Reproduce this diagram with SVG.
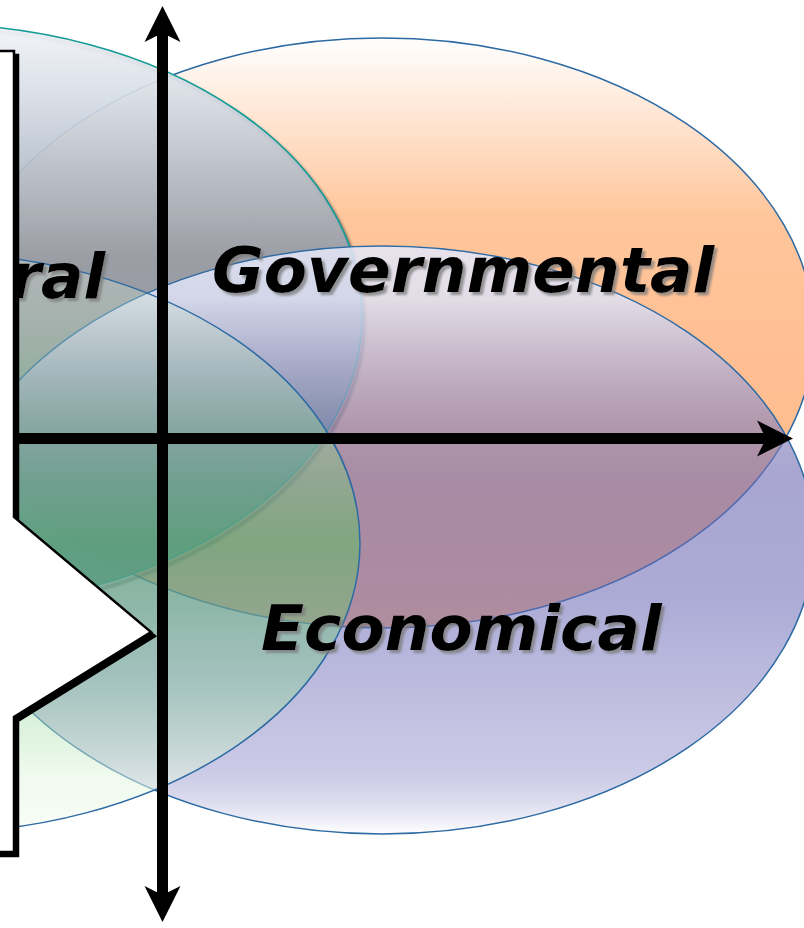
<svg xmlns="http://www.w3.org/2000/svg" width="804" height="928" viewBox="0 0 804 928">
<style>
.edge{fill:none;stroke:#2d6aa3;stroke-width:1.5}
.lbl{font-family:"DejaVu Sans","Liberation Sans",sans-serif;font-weight:bold;font-style:italic;font-size:63px;fill:#000}
.axis{stroke:#000;stroke-width:11;fill:none}
</style>
<defs>
<linearGradient id="gG" x1="0" y1="0" x2="0" y2="1">
<stop offset="0" stop-color="#ffffff"/>
<stop offset="0.3" stop-color="#ffc69c"/>
<stop offset="0.55" stop-color="#ffbf92"/>
<stop offset="1" stop-color="#ffb888"/>
</linearGradient>
<linearGradient id="gC" x1="0" y1="0" x2="0" y2="1">
<stop offset="0" stop-color="#f2f4f8"/>
<stop offset="0.13" stop-color="#d5dce5"/>
<stop offset="0.3" stop-color="#aab3be"/>
<stop offset="0.4" stop-color="#939aa6"/>
<stop offset="0.55" stop-color="#8a96a0"/>
<stop offset="0.75" stop-color="#62998a"/>
<stop offset="1" stop-color="#3f8f79"/>
</linearGradient>
<linearGradient id="gE" x1="0" y1="0" x2="0" y2="1">
<stop offset="0" stop-color="rgb(228,230,247)" stop-opacity="0.88"/>
<stop offset="0.09" stop-color="rgb(221,225,245)" stop-opacity="0.85"/>
<stop offset="0.31" stop-color="rgb(134,131,186)" stop-opacity="0.65"/>
<stop offset="0.4" stop-color="rgb(110,106,179)" stop-opacity="0.6"/>
<stop offset="0.6" stop-color="rgb(104,102,180)" stop-opacity="0.55"/>
<stop offset="0.85" stop-color="rgb(130,128,195)" stop-opacity="0.45"/>
<stop offset="1" stop-color="#ffffff" stop-opacity="0.9"/>
</linearGradient>
<linearGradient id="gT" x1="0" y1="0" x2="0" y2="1">
<stop offset="0" stop-color="rgb(230,240,230)" stop-opacity="0.3"/>
<stop offset="0.2" stop-color="rgb(170,215,175)" stop-opacity="0.35"/>
<stop offset="0.5" stop-color="rgb(90,190,95)" stop-opacity="0.52"/>
<stop offset="0.73" stop-color="rgb(120,205,130)" stop-opacity="0.36"/>
<stop offset="0.9" stop-color="rgb(225,245,222)" stop-opacity="0.5"/>
<stop offset="1" stop-color="rgb(250,255,248)" stop-opacity="0.8"/>
</linearGradient>
<filter id="tsh" x="-10%" y="-30%" width="130%" height="160%">
<feGaussianBlur in="SourceAlpha" stdDeviation="1.3"/>
<feOffset dx="3" dy="3" result="b"/>
<feFlood flood-color="#7a7a7a" flood-opacity="0.75"/>
<feComposite in2="b" operator="in"/>
<feMerge><feMergeNode/><feMergeNode in="SourceGraphic"/></feMerge>
</filter>
<filter id="esh" x="-20%" y="-20%" width="140%" height="140%">
<feGaussianBlur stdDeviation="1"/>
</filter>
<marker id="ah" markerUnits="userSpaceOnUse" markerWidth="40" markerHeight="40" viewBox="-40 -20 40 40" refX="-27" refY="0" orient="auto-start-reverse" overflow="visible">
<path d="M0,0 L-36,-18 L-27,0 L-36,18 Z" fill="#000"/>
</marker>
</defs>
<rect width="804" height="928" fill="#ffffff"/>
<g id="governmental-ellipse">
<ellipse cx="382" cy="333" rx="432" ry="295" fill="url(#gG)"/>
<ellipse cx="382" cy="333" rx="432" ry="295" class="edge"/>
</g>
<g id="cultural-ellipse">
<ellipse cx="-68" cy="320" rx="432" ry="292" fill="none" stroke="#3a3a3a" stroke-opacity="0.5" stroke-width="4" filter="url(#esh)"/>
<ellipse cx="-70" cy="316" rx="432" ry="292" fill="url(#gC)" fill-opacity="0.92"/>
<ellipse cx="-70" cy="316" rx="432" ry="292" fill="none" stroke="#139c96" stroke-width="1.6"/>
</g>
<g id="economical-ellipse">
<ellipse cx="382" cy="540" rx="432" ry="294" fill="url(#gE)"/>
<ellipse cx="382" cy="540" rx="432" ry="294" class="edge"/>
</g>
<g id="green-ellipse">
<ellipse cx="-72" cy="543" rx="432" ry="290" fill="url(#gT)"/>
<ellipse cx="-72" cy="543" rx="432" ry="290" class="edge"/>
</g>
<g id="labels">
<text class="lbl" x="10" y="298" filter="url(#tsh)">ral</text>
<text class="lbl" x="212" y="292" filter="url(#tsh)">Governmental</text>
<text class="lbl" x="261" y="650" filter="url(#tsh)">Economical</text>
</g>
<g id="side-shape">
<polygon points="-10,55 18,55 18,521 155,636 18,721 18,856 -10,856" fill="#000" stroke="#000" stroke-width="2.5"/>
<polygon points="-10,51 14,51 14,517 151,632 14,717 14,852 -10,852" fill="#ffffff" stroke="#000" stroke-width="2.5"/>
</g>
<g id="connectors">
<line class="axis" x1="162.5" y1="33" x2="162.5" y2="895" marker-start="url(#ah)" marker-end="url(#ah)"/>
<line class="axis" x1="15" y1="438.5" x2="766" y2="438.5" marker-end="url(#ah)"/>
</g>
</svg>
